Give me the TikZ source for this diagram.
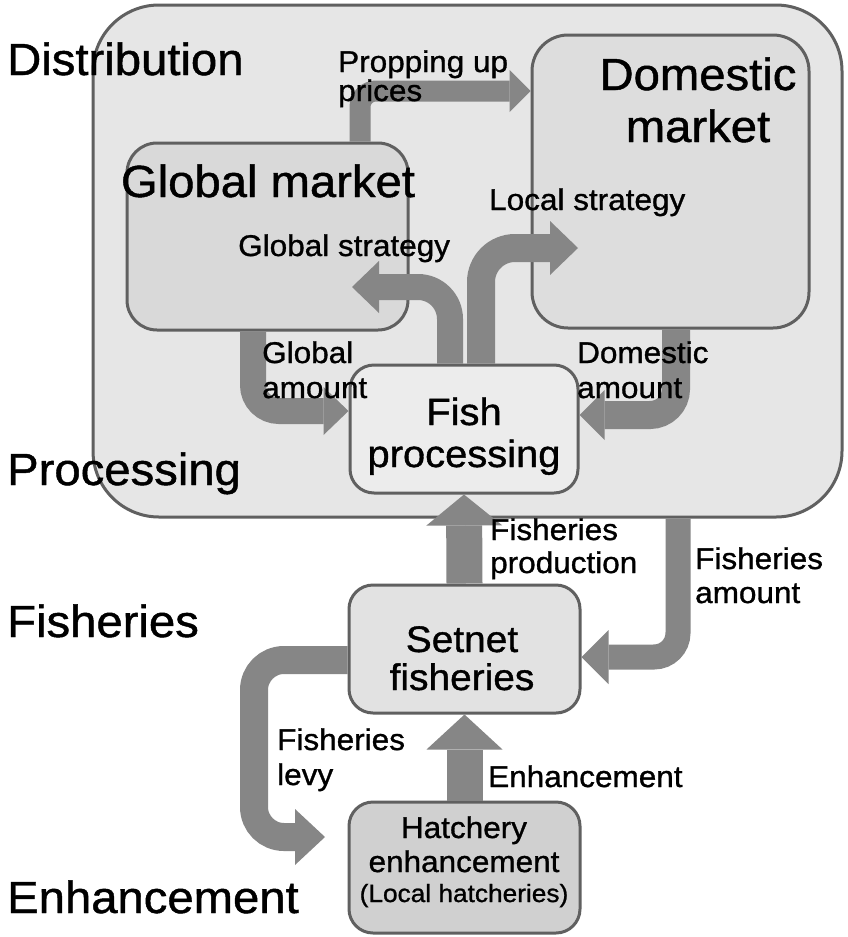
\documentclass[tikz,border=0pt]{standalone}
\usepackage{fontspec}
\setmainfont{Liberation Sans}[FakeStretch=1.05, FakeBold=1]
\usetikzlibrary{arrows.meta}

\definecolor{edge}{HTML}{606060}
\definecolor{flow}{HTML}{868686}
\definecolor{outerfill}{HTML}{E6E6E6}
\definecolor{gmfill}{HTML}{D9D9D9}
\definecolor{dmfill}{HTML}{DDDDDD}
\definecolor{fpfill}{HTML}{ECECEC}
\definecolor{sffill}{HTML}{E2E2E2}
\definecolor{hefill}{HTML}{D0D0D0}

\begin{document}
\begin{tikzpicture}[x=1pt,y=-1pt,
  box/.style={draw=edge, line width=3pt, rounded corners=#1, inner sep=0pt},
  box/.default=24pt,
  boxtext/.style={inner sep=0pt, anchor=base, font=\fontsize{#1}{#1}\selectfont},
  stage/.style={inner sep=0pt, anchor=base west, font=\fontsize{45}{50}\selectfont},
  title/.style={inner sep=0pt, anchor=base, font=\fontsize{45}{50}\selectfont},
  flowlabel/.style={inner sep=0pt, anchor=base west, font=\fontsize{30}{34}\selectfont},
  fat/.style n args={3}{draw=flow, line width=#1,
    -{Triangle[width=#2, length=#3, line width=0pt]}},
]
\useasboundingbox (0,0) rectangle (848,937);
\fill[white] (0,0) rectangle (848,937);

% distribution / processing frame
\node[box=66pt, fill=outerfill, minimum width=749pt, minimum height=512pt] (outer) at (467.5,261) {};

% markets and processing
\node[box=30pt, fill=gmfill, minimum width=281pt, minimum height=187pt] (gm) at (267.5,236.5) {};
\node[box=36pt, fill=dmfill, minimum width=277pt, minimum height=293pt] (dm) at (670.5,181.5) {};
\node[box, fill=fpfill, minimum width=228pt, minimum height=128pt] (fp) at (464,429) {};

% fisheries and enhancement
\node[box, fill=sffill, minimum width=231pt, minimum height=128pt] (sf) at (464.5,649) {};
\node[box, fill=hefill, minimum width=231pt, minimum height=131pt] (he) at (464.5,867.5) {};

% corner points of the flows
\coordinate (propc) at (360,91);
\coordinate (gsc) at (450,287);
\coordinate (gsend) at (352,287);
\coordinate (lsc) at (481,248);
\coordinate (lsend) at (578,248);
\coordinate (gac) at (253,411);
\coordinate (dac) at (676,415);
\coordinate (fac) at (678,657);
\coordinate (lvc) at (254,660);
\coordinate (lvd) at (254,837);
\coordinate (lvend) at (325,837);

% flows
\draw[fat={21pt}{42pt}{21pt}, rounded corners=16pt]
  (gm.north -| propc) -- (propc) -- (propc -| dm.west);
\draw[fat={26pt}{52pt}{27pt}, rounded corners=32pt]
  (fp.north -| gsc) -- (gsc) -- (gsend);
\draw[fat={28pt}{54pt}{28pt}, rounded corners=34pt]
  (fp.north -| lsc) -- (lsc) -- (lsend);
\draw[fat={26pt}{48pt}{25pt}, rounded corners=26pt]
  (gm.south -| gac) -- (gac) -- (gac -| fp.west);
\draw[fat={28pt}{50pt}{25pt}, rounded corners=26pt]
  (dm.south -| dac) -- (dac) -- (dac -| fp.east);
\draw[fat={36pt}{76pt}{31pt}] (sf.north) -- (fp.south);
\draw[fat={25pt}{54pt}{27pt}, rounded corners=24pt]
  (outer.south -| fac) -- (fac) -- (fac -| sf.east);
\draw[fat={36pt}{76pt}{35pt}] (he.north) -- (sf.south);
\draw[fat={28pt}{56pt}{30pt}, rounded corners=30pt]
  (sf.west |- lvc) -- (lvc) -- (lvd) -- (lvend);

% box texts
\node[title] (gmtitle) at (268,197) {Global market};
\node[title] (dmtitlea) at (698,90) {Domestic};
\node[title] (dmtitleb) at (698,142) {market};
\node[boxtext=38] (fpa) at (464,425) {Fish};
\node[boxtext=38] (fpb) at (464,467) {processing};
\node[boxtext=37] (sfa) at (462,652) {Setnet};
\node[boxtext=37] (sfb) at (462,690) {fisheries};
\node[boxtext=30] (hea) at (464,838) {Hatchery};
\node[boxtext=30] (heb) at (464,872) {enhancement};
\node[boxtext=25] (hec) at (464,902) {(Local hatcheries)};

% stage names
\node[stage] (distribution) at (7,75) {Distribution};
\node[stage] (processing) at (7,485) {Processing};
\node[stage] (fisheries) at (7,637) {Fisheries};
\node[stage] (enhancement) at (7,913) {Enhancement};

% flow labels
\node[flowlabel] (propa) at (338,72) {Propping up};
\node[flowlabel] (propb) at (338,101) {prices};
\node[flowlabel] (local) at (489,210) {Local strategy};
\node[flowlabel] (global) at (238,256) {Global strategy};
\node[flowlabel] (gaa) at (262,363) {Global};
\node[flowlabel] (gab) at (262,398) {amount};
\node[flowlabel] (daa) at (577,363) {Domestic};
\node[flowlabel] (dab) at (577,398) {amount};
\node[flowlabel] (fprodA) at (490,540) {Fisheries};
\node[flowlabel] (fprodB) at (490,573) {production};
\node[flowlabel] (faa) at (695,569) {Fisheries};
\node[flowlabel] (fab) at (695,603) {amount};
\node[flowlabel] (lva) at (277,750) {Fisheries};
\node[flowlabel] (lvb) at (277,785) {levy};
\node[flowlabel] (enh) at (488,787) {Enhancement};
\end{tikzpicture}
\end{document}
